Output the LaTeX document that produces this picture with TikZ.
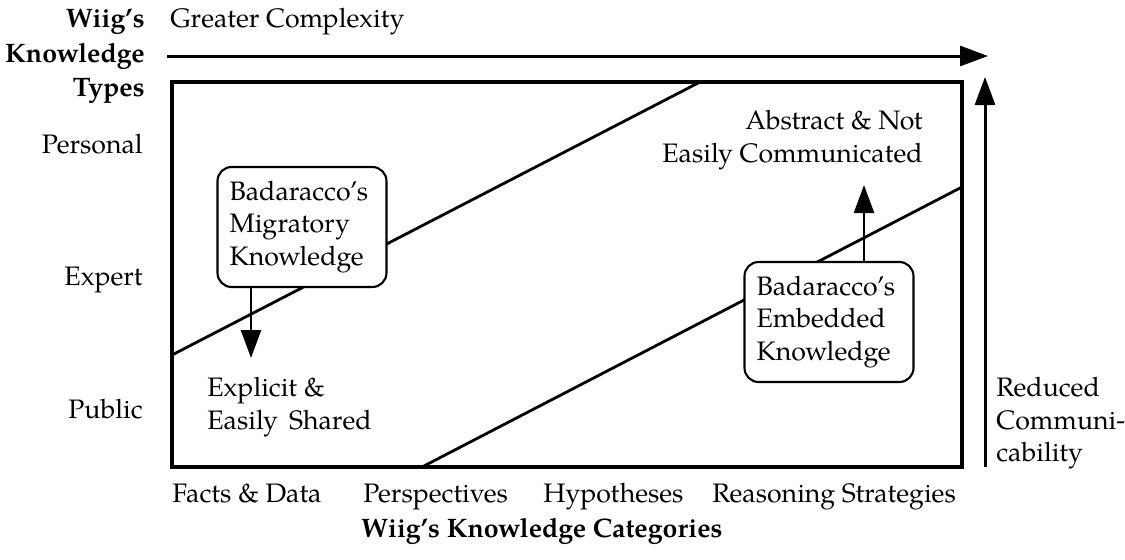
\documentclass[tikz,border=0pt]{standalone}
\usepackage{fontspec}
\setmainfont{texgyrepagella}[Extension=.otf,UprightFont=*-regular,BoldFont=*-bold,ItalicFont=*-italic,BoldItalicFont=*-bolditalic]
\usetikzlibrary{arrows.meta}

\begin{document}
\begin{tikzpicture}[x=0.02cm,y=-0.02cm,font=\fontsize{15.2}{18.4}\selectfont,
  lbl/.style={inner sep=0pt},
  know/.style={draw,fill=white,rounded corners=8pt,line width=1.2pt,minimum width=3.38cm,minimum height=2.4cm,text width=2.9cm,align=left,inner sep=0pt},
  arr/.style={-{Triangle[length=.56cm,width=.4cm]},line width=1.7pt}]
\useasboundingbox (0,0) rectangle (1125,559);
% frame and the two boundary lines
\draw[line width=2.8pt] (172,82) rectangle (962,467);
\draw[line width=1.6pt] (172,355) -- (700,82);
\draw[line width=1.6pt] (422,467) -- (962,187);
% axes
\coordinate (cxa) at (167,56); \coordinate (cxb) at (988,56);
\coordinate (cma) at (985,467); \coordinate (cmb) at (985,77);
\draw[arr] (cxa) -- (cxb);
\draw[arr] (cma) -- (cmb);
\node[lbl,anchor=north east,align=right,font=\fontsize{15.2}{19.4}\selectfont\bfseries] (types) at (145,9) {Wiig's\\Knowledge\\Types};
\node[lbl,anchor=base west] (cplx) at (170,27) {Greater Complexity};
\node[lbl,anchor=base east] (personal) at (143,153) {Personal};
\node[lbl,anchor=base east] (expert) at (143,285) {Expert};
\node[lbl,anchor=base east] (public) at (143,418) {Public};
\node[lbl,anchor=base west] (facts) at (172,502) {Facts \& Data};
\node[lbl,anchor=base west] (persp) at (363,502) {Perspectives};
\node[lbl,anchor=base west] (hypo) at (543,502) {Hypotheses};
\node[lbl,anchor=base west] (reason) at (712,502) {Reasoning Strategies};
\node[lbl,anchor=base,font=\fontsize{15.2}{18.4}\selectfont\bfseries] (cats) at (542,537) {Wiig's Knowledge Categories};
\node[lbl,anchor=north west,align=left] (reduced) at (996,377) {Reduced\\Communi-\\cability};
% the two kinds of knowledge
\node[lbl,anchor=north east,align=right] (abstract) at (923,110) {Abstract \& Not\\Easily Communicated};
\node[lbl,anchor=north west,align=left] (explicit) at (207,377) {Explicit \&\\Easily\, Shared};
\node[know] (mig) at (302,227) {Badaracco's\\Migratory\\Knowledge};
\node[know] (emb) at (829,322) {Badaracco's\\Embedded\\Knowledge};
\coordinate (migtip) at (251,358); \coordinate (embtip) at (864,185);
\draw[arr,line width=1.4pt] (mig.south -| migtip) -- (migtip);
\draw[arr,line width=1.4pt] (emb.north -| embtip) -- (embtip);
\end{tikzpicture}
\end{document}
